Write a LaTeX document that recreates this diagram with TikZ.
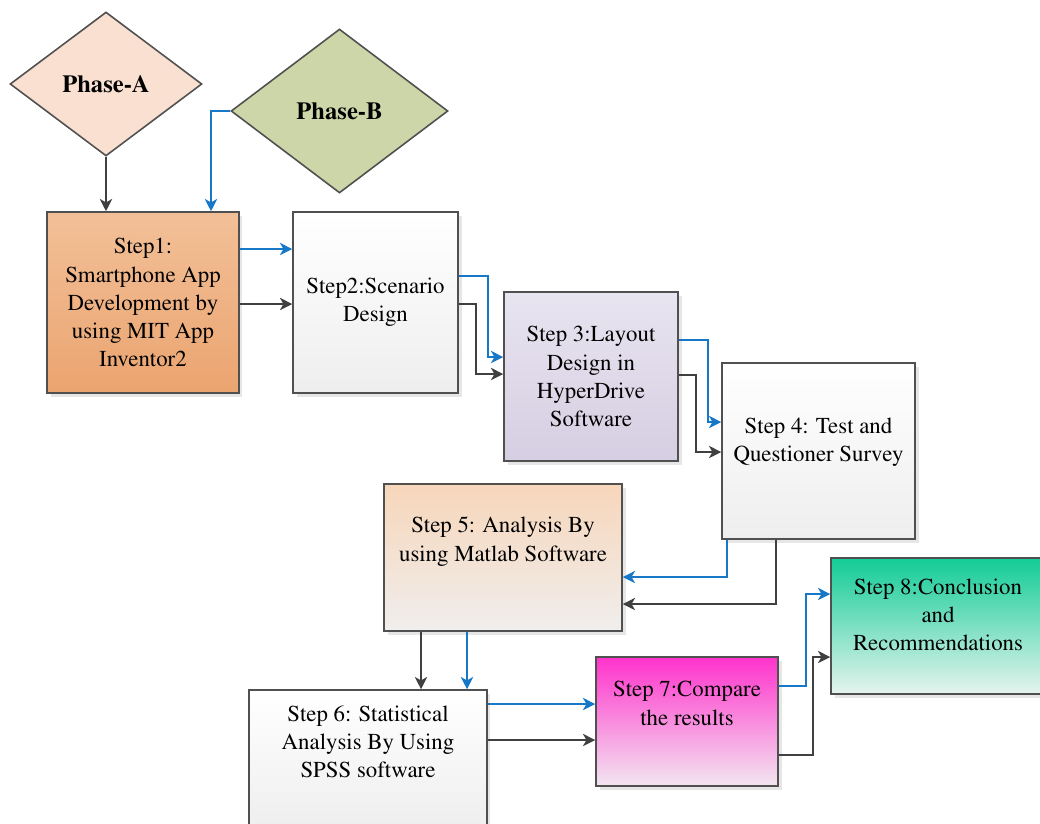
\documentclass[tikz,border=0pt]{standalone}
\usepackage[T1]{fontenc}
\usepackage{times}
\usepackage{tikz}
\usetikzlibrary{shapes.geometric, arrows.meta, shadows}

\definecolor{boxgray}{RGB}{80,80,80}
\definecolor{linegray}{RGB}{64,64,64}
\definecolor{lineblue}{RGB}{24,120,200}
\definecolor{phaseAfill}{RGB}{249,224,208}
\definecolor{phaseBfill}{RGB}{205,214,168}

\begin{document}
\begin{tikzpicture}[
    x=0.02cm, y=-0.02cm,
    phase/.style={diamond, draw=boxgray, line width=0.9pt, inner sep=0pt,
        font={\fontsize{14}{16}\selectfont\bfseries}},
    stepbox/.style={rectangle, draw=boxgray, line width=0.9pt, align=center,
        inner sep=2pt, font={\fontsize{13}{16}\selectfont},
        drop shadow={shadow xshift=2pt, shadow yshift=-2pt, opacity=0.2}},
    flowgray/.style={draw=linegray, line width=0.9pt,
        -{Stealth[length=7pt,width=7pt,inset=2pt]}},
    flowblue/.style={draw=lineblue, line width=0.9pt,
        -{Stealth[length=7pt,width=7pt,inset=2pt]}},
    ]
        \useasboundingbox (0,0) rectangle (1040,823);
        % Phases
        \node[phase, fill=phaseAfill, minimum width=3.84cm, minimum height=2.88cm] (pa) at (106,84) {Phase-A};
        \node[phase, fill=phaseBfill, minimum width=4.34cm, minimum height=3.28cm] (pb) at (339.5,111) {Phase-B};
        % Steps
        \node[stepbox, top color={rgb,255:red,242;green,192;blue,152}, bottom color={rgb,255:red,235;green,164;blue,112},
            minimum width=3.84cm, minimum height=3.62cm] (s1) at (143,302.5)
            {Step1:\\Smartphone App\\Development by\\using MIT App\\Inventor2};
        \node[stepbox, top color=white, bottom color={rgb,255:red,238;green,238;blue,238},
            minimum width=3.3cm, minimum height=3.62cm] (s2) at (375.5,302.5) {Step2:Scenario\\Design};
        \node[stepbox, top color={rgb,255:red,232;green,228;blue,240}, bottom color={rgb,255:red,214;green,206;blue,226},
            minimum width=3.48cm, minimum height=3.38cm] (s3) at (591,376.5)
            {Step 3:Layout\\Design in\\HyperDrive\\Software};
        \node[stepbox, top color=white, bottom color={rgb,255:red,238;green,238;blue,238},
            minimum width=3.86cm, minimum height=3.52cm] (s4) at (818.5,451)
            {Step 4: Test and\\Questioner Survey\\[-8pt]\strut};
        \node[stepbox, top color={rgb,255:red,247;green,214;blue,186}, bottom color={rgb,255:red,240;green,238;blue,237},
            minimum width=4.76cm, minimum height=2.94cm] (s5) at (503,557.5)
            {Step 5: Analysis By\\using Matlab Software\\\strut};
        \node[stepbox, top color=white, bottom color={rgb,255:red,238;green,238;blue,238},
            minimum width=4.76cm, minimum height=2.8cm] (s6) at (368,760)
            {Step 6: Statistical\\Analysis By Using\\SPSS software\\\strut};
        \node[stepbox, top color={rgb,255:red,255;green,51;blue,204}, bottom color={rgb,255:red,242;green,230;blue,240},
            minimum width=3.64cm, minimum height=2.58cm] (s7) at (687,721.5)
            {Step 7:Compare\\the results\\\strut};
        \node[stepbox, top color={rgb,255:red,18;green,204;blue,150}, bottom color={rgb,255:red,230;green,244;blue,238},
            minimum width=4.28cm, minimum height=2.72cm] (s8) at (938,626)
            {Step 8:Conclusion\\and\\Recommendations\\[-8pt]\strut};

        % Connectors
        \draw[flowgray] (pa.south) -- (pa.south |- s1.north);
        \draw[flowblue] (pb.west) -| (s1.north -| 211,0);

        \draw[flowblue] (s1.east |- 0,249) -- (s2.west |- 0,249);
        \draw[flowgray] (s1.east |- 0,304) -- (s2.west |- 0,304);

        \draw[flowblue] (s2.east |- 0,276) -| (488,357) -- (s3.west |- 0,357);
        \draw[flowgray] (s2.east |- 0,304) -| (476,374) -- (s3.west |- 0,374);

        \draw[flowblue] (s3.east |- 0,340) -| (708,422) -- (s4.west |- 0,422);
        \draw[flowgray] (s3.east |- 0,375) -| (696,452) -- (s4.west |- 0,452);

        \draw[flowblue] (s4.south -| 727,0) |- (s5.east |- 0,577);
        \draw[flowgray] (s4.south -| 776,0) |- (s5.east |- 0,604);

        \draw[flowgray] (s5.south -| 421,0) -- (s6.north -| 421,0);
        \draw[flowblue] (s5.south -| 467,0) -- (s6.north -| 467,0);

        \draw[flowblue] (s6.east |- 0,704) -- (s7.west |- 0,704);
        \draw[flowgray] (s6.east |- 0,740) -- (s7.west |- 0,740);

        \draw[flowblue] (s7.east |- 0,686) -| (806,594) -- (s8.west |- 0,594);
        \draw[flowgray] (s7.east |- 0,755) -| (813,657) -- (s8.west |- 0,657);

    \end{tikzpicture}
\end{document}
